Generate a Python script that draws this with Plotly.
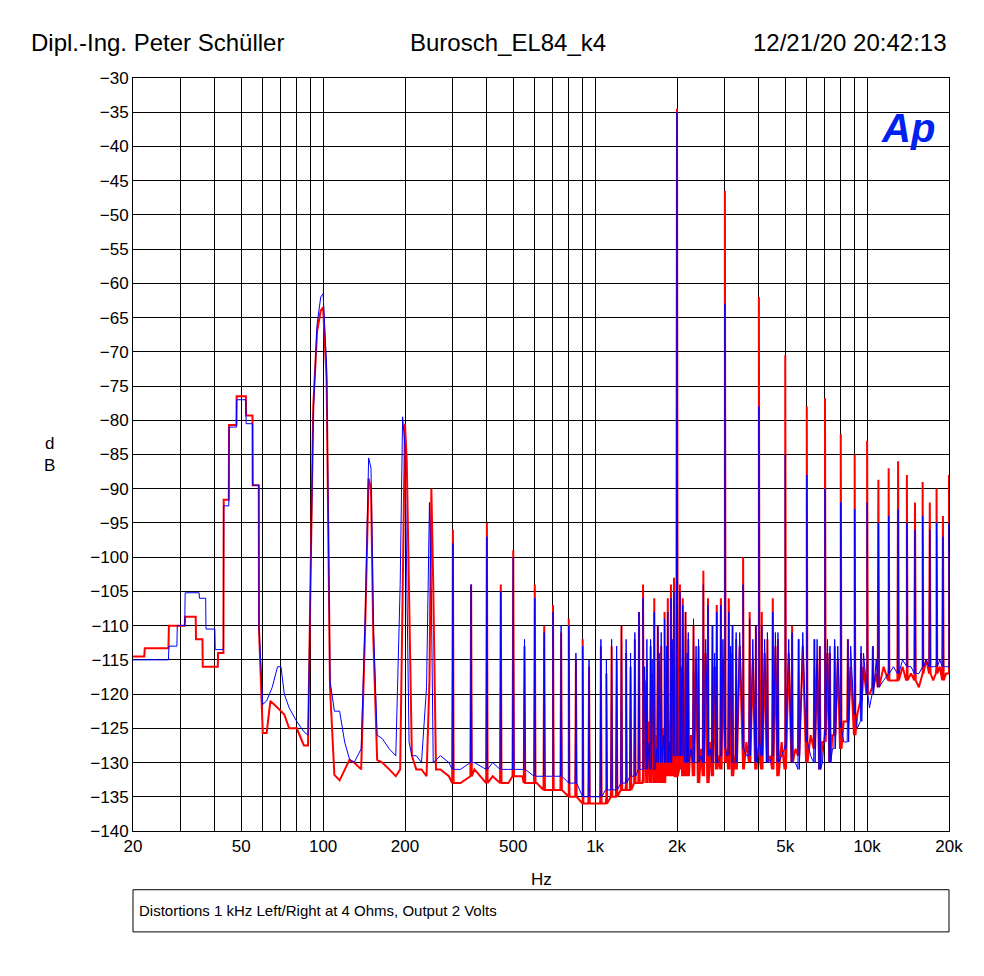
import plotly.graph_objects as go

# ---- data (Hz, dB) ----
# low-frequency stepped part
red_low_f = [20, 22, 22.1, 27, 27.1, 31, 31.1, 34, 34.1, 36, 36.1, 41, 41.1, 43, 43.1, 45, 45.1, 48, 48.1, 52, 52.1, 55, 55.1, 58, 58.1, 60, 62, 64, 68, 72, 75, 80, 85, 88, 90, 92, 95, 98, 100, 103, 106, 110, 115, 120, 125, 130, 138, 143, 147, 150, 153, 158, 165, 175, 185, 192, 196, 200, 203, 207, 212, 220, 230, 240, 246, 250, 254, 260]
red_low_db = [-114.5, -114.5, -113.3, -113.3, -110, -110, -108.7, -108.7, -112, -112, -116, -116, -114, -114, -91.6, -91.6, -80.7, -80.7, -76.5, -76.5, -79.3, -79.3, -89.5, -89.5, -110.5, -125.7, -125.7, -121, -122, -123, -125, -125, -127.5, -127.5, -102, -78, -67, -64, -63.5, -74, -119, -131.8, -132.6, -131, -129.6, -130, -131, -109, -88.5, -90, -112, -129.6, -130, -131, -132, -131, -105, -80.5, -86, -104, -129, -131, -131, -132, -118, -90, -104, -131]
blue_low_f = [20, 27, 27.1, 29, 29.1, 31, 31.1, 35, 35.1, 37, 37.1, 40, 40.1, 43, 43.1, 45, 45.1, 48, 48.1, 52, 52.1, 55, 55.1, 58, 58.1, 60, 62, 65, 68, 70, 72, 75, 80, 85, 88, 90, 92, 95, 98, 100, 103, 106, 110, 115, 120, 125, 130, 138, 143, 147, 150, 153, 158, 165, 175, 185, 192, 196, 200, 203, 207, 212, 220, 230, 240, 246, 250, 254, 260]
blue_low_db = [-115, -115, -113, -113, -110, -110, -105.2, -105.2, -106, -106, -110.5, -110.5, -113.5, -113.5, -92.5, -92.5, -81, -81, -77, -77, -80.5, -80.5, -89.5, -89.5, -110, -121.5, -121, -119, -116, -116, -120, -122, -124, -125.5, -126, -103, -79, -66, -62, -61.5, -72, -118, -122.5, -122.5, -127, -129.5, -130, -128, -108, -85.5, -87, -110, -126, -126.5, -128, -129, -104, -79.5, -84, -103, -127, -129, -129, -130, -119, -92, -106, -130]

# noise floor above 260 Hz
red_floor_f = [270, 290, 320, 360, 420, 480, 540, 610, 700, 800, 900, 1000, 1100, 1300, 1500, 1800, 2200, 2600, 3000, 3500, 4000, 5000, 6000, 7000, 8000, 9000, 10000, 12000, 14000, 16000, 18000, 20000]
red_floor_db = [-131, -132, -133, -131, -132, -133, -132, -133, -134, -135, -136, -136, -135, -133, -132, -132, -131, -132, -130, -131, -128, -130, -127, -125, -122, -120, -117, -116, -117, -117, -116, -117]
blue_floor_f = [270, 290, 320, 360, 420, 480, 540, 610, 700, 800, 900, 1000, 1100, 1300, 1500, 1800, 2200, 2600, 3000, 3500, 4000, 5000, 6000, 7000, 8000, 9000, 10000, 12000, 14000, 16000, 18000, 20000]
blue_floor_db = [-129, -130, -131, -130, -130, -131, -131, -132, -132, -133, -135, -135, -134, -132, -131, -130, -129, -129, -128, -128, -127, -127, -126, -125, -124, -122, -120, -117, -116, -116, -115, -116]

# spikes (mains / distortion products)
spike_f = [300, 350, 400, 450, 500, 550, 600, 650, 700, 750, 800, 850, 900, 950, 1050, 1100, 1150, 1200, 1250, 1300, 1350, 1400, 1450, 1500, 1550, 1600, 1650, 1700, 1750, 1800, 1850, 1900, 1950, 2000, 2050, 2100, 2150, 2200, 2300, 2400, 2500, 2600, 2700, 2800, 2900, 3000, 3100, 3200, 3300, 3500, 3700, 3900, 4000, 4100, 4300, 4500, 4700, 5000, 5300, 5600, 6000, 6400, 6700, 7000, 7300, 7600, 8000, 8500, 9000, 9500, 10000, 10500, 11000, 12000, 13000, 14000, 15000, 16000, 17000, 18000, 19000, 20000]
red_peak = [-96, -104, -95, -104, -99, -113, -104, -110, -107, -111, -109, -115, -112, -116, -113, -117, -113, -115, -110, -114, -116, -112, -108, -104, -115, -113, -106, -110, -113, -108, -106, -104, -103, -34.5, -104, -106, -108, -112, -110, -113, -102, -106, -110, -107, -106, -46.5, -106, -110, -112, -100, -108, -110, -62, -108, -112, -106, -112, -70.5, -110, -112, -78, -112, -113, -76.8, -114, -113, -82, -112, -85, -114, -83, -113, -88.7, -87, -86, -88, -92, -89, -92, -90, -94, -88]
blue_peak = [-98, -104, -97, -105, -100, -112, -106, -111, -108, -110, -110, -114, -113, -115, -112, -115, -112, -113, -110, -112, -114, -111, -108, -106, -112, -112, -108, -110, -111, -109, -108, -106, -105, -35, -105, -107, -108, -111, -109, -112, -104, -107, -110, -108, -107, -63, -108, -110, -111, -104, -109, -110, -78, -110, -111, -108, -111, -85, -111, -112, -88, -112, -113, -90, -113, -112, -92, -112, -93, -113, -92, -113, -95, -94, -93, -95, -96, -94, -96, -95, -97, -95]
spike_dip_red = [-133, -132, -133, -133, -132, -133, -133, -134, -134, -134, -135, -135, -136, -136, -136, -136, -135, -135, -134, -134, -134, -133, -133, -133, -133, -133, -133, -133, -133, -133, -132, -132, -132, -132, -131, -132, -132, -132, -132, -133, -132, -133, -132, -131, -131, -130, -131, -132, -131, -131, -130, -131, -129, -131, -130, -131, -132, -131, -130, -129, -130, -128, -131, -127, -130, -126, -128, -124, -126, -121, -120, -119, -119, -118, -118, -118, -118, -117, -117, -117, -118, -117]
spike_dip_blue = [-131, -130, -131, -131, -131, -131, -132, -132, -132, -132, -133, -133, -135, -135, -135, -134, -134, -134, -133, -133, -132, -132, -131, -131, -131, -131, -131, -130, -130, -130, -130, -130, -129, -129, -129, -129, -130, -130, -130, -130, -130, -129, -130, -130, -129, -128, -129, -130, -130, -128, -129, -130, -127, -129, -130, -129, -130, -128, -130, -131, -127, -130, -131, -126, -130, -128, -125, -127, -123, -124, -120, -120, -119, -117, -117, -116, -117, -116, -116, -116, -116, -116]

# dense grass in the 1.5k–20k band
grass_f = [1520, 1580, 1620, 1680, 1720, 1780, 1830, 1880, 1920, 2070, 2120, 2180, 2250, 2350, 2450, 2550, 2650, 2750, 2850, 2950, 3050, 3150, 3250, 3400, 3600, 3800, 3950, 4200, 4400, 4600, 4850, 5150, 5450, 5800, 6200, 6550, 6850, 7150, 7450, 7800, 8200, 8700, 9200, 9700, 10200, 10800, 11500, 12500, 13500, 14500, 15500, 16500, 17500, 18500, 19500]
grass_red = [-118, -124, -117, -126, -116, -125, -115, -124, -114, -118, -127, -116, -126, -115, -128, -114, -127, -116, -129, -115, -128, -114, -129, -113, -127, -115, -128, -114, -129, -113, -127, -114, -128, -113, -126, -115, -127, -114, -126, -115, -124, -116, -123, -116, -120, -117, -116, -118, -116, -117, -119, -115, -118, -116, -117]
grass_blue = [-116, -127, -115, -128, -114, -126, -113, -127, -112, -116, -129, -114, -128, -113, -129, -112, -128, -114, -130, -112, -129, -113, -130, -111, -129, -112, -130, -112, -130, -111, -129, -112, -130, -111, -129, -112, -130, -112, -128, -113, -127, -113, -125, -114, -122, -115, -118, -116, -115, -116, -117, -115, -116, -115, -116]


def build(low_f, low_db, floor_f, floor_db, peaks, dips, grass):
    pts = list(zip(low_f, low_db)) + list(zip(floor_f, floor_db))
    for f, p, d in zip(spike_f, peaks, dips):
        pts += [(f * 0.994, d), (f, p), (f * 1.006, d)]
    pts += list(zip(grass_f, grass))
    pts.sort(key=lambda t: t[0])
    return [t[0] for t in pts], [t[1] for t in pts]


rx, ry = build(red_low_f, red_low_db, red_floor_f, red_floor_db, red_peak, spike_dip_red, grass_red)
bx, by = build(blue_low_f, blue_low_db, blue_floor_f, blue_floor_db, blue_peak, spike_dip_blue, grass_blue)

fig = go.Figure()
fig.add_trace(go.Scatter(x=rx, y=ry, mode='lines', line=dict(color='#ff0000', width=2), showlegend=False))
fig.add_trace(go.Scatter(x=bx, y=by, mode='lines', line=dict(color='#0000ff', width=1), showlegend=False))

# grid at every 1..9 per decade, labels on a few
grid_vals, grid_text = [], []
labels = {20: '20', 50: '50', 100: '100', 200: '200', 500: '500', 1000: '1k',
          2000: '2k', 5000: '5k', 10000: '10k', 20000: '20k'}
for dec in [10, 100, 1000, 10000]:
    for m in range(1, 10):
        v = m * dec
        if 20 <= v <= 20000:
            grid_vals.append(v)
            grid_text.append(labels.get(v, ''))

fig.update_layout(
    width=984, height=976,
    margin=dict(l=125, r=43, t=70, b=153),
    paper_bgcolor='white', plot_bgcolor='white',
    font=dict(family='Liberation Sans, Arial', size=17, color='black'),
    xaxis=dict(type='log', range=[1.30103, 4.30103], tickvals=grid_vals, ticktext=grid_text,
               showgrid=True, gridcolor='black', gridwidth=1, linecolor='black', mirror=True,
               showline=True, ticks='', tickfont=dict(size=17), zeroline=False),
    yaxis=dict(range=[-140, -30], tickvals=list(range(-140, -29, 5)), showgrid=True,
               gridcolor='black', gridwidth=1, linecolor='black', mirror=True, showline=True,
               ticks='', tickfont=dict(size=17), zeroline=False),
    shapes=[dict(type='rect', xref='paper', yref='paper', x0=0, x1=1, y0=-0.078, y1=-0.134,
                 line=dict(color='black', width=1))],
    annotations=[
        dict(text='Dipl.-Ing. Peter Schüller', x=-0.127, y=1.068, xref='paper', yref='paper',
             xanchor='left', showarrow=False, font=dict(size=24)),
        dict(text='Burosch_EL84_k4', x=0.337, y=1.068, xref='paper', yref='paper', xanchor='left',
             showarrow=False, font=dict(size=24)),
        dict(text='12/21/20 20:42:13', x=1.0, y=1.068, xref='paper', yref='paper', xanchor='right',
             showarrow=False, font=dict(size=24)),
        dict(text='Hz', x=0.5, y=-0.08, xref='paper', yref='paper', showarrow=False, font=dict(size=17)),
        dict(text='d<br>B', x=-0.111, y=0.5, xref='paper', yref='paper', showarrow=False, font=dict(size=17)),
        dict(text='Distortions 1 kHz Left/Right at 4 Ohms, Output 2 Volts', x=0.005, y=-0.12,
             xref='paper', yref='paper', xanchor='left', showarrow=False, font=dict(size=15)),
        dict(text='<b><i>Ap</i></b>', x=0.985, y=0.965, xref='paper', yref='paper', xanchor='right',
             yanchor='top', showarrow=False, font=dict(size=40, color='#0022ee', family='Liberation Sans, Arial')),
    ],
)

fig.write_html('out.html')
